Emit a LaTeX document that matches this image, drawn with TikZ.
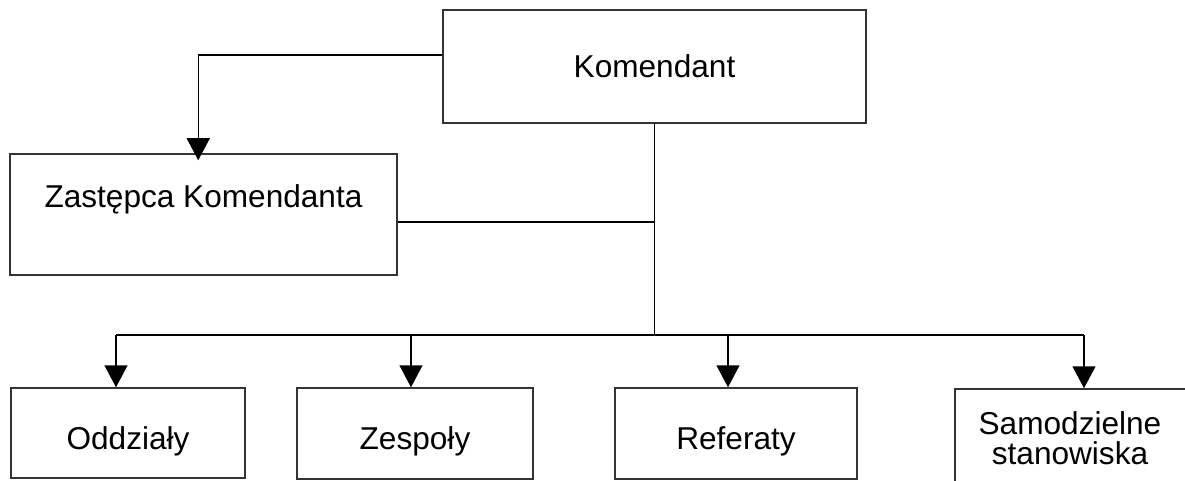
\documentclass[tikz,border=0pt]{standalone}
\usepackage{fontspec}
\setmainfont{Liberation Sans}
\usetikzlibrary{arrows.meta,calc}
\begin{document}
\begin{tikzpicture}[x=0.5pt,y=-0.5pt,
  box/.style 2 args={draw=black!80, line width=0.75pt, inner sep=0pt,
    minimum width=#1*0.5pt, minimum height=#2*0.5pt,
    font=\fontsize{15.8pt}{15pt}\selectfont, text height=11.5pt, text depth=0pt},
  low/.style={text height=16pt},
  lbl/.style={font=\fontsize{15.8pt}{15pt}\selectfont, inner sep=0pt},
  conn/.style={line width=0.75pt, draw=black},
  arr/.style={conn, -{Triangle[width=11.5pt,length=11pt]}}]
\path[use as bounding box, clip] (0,0) rectangle (1185,481);
\fill[white] (0,0) rectangle (1185,481);
% boxes
\node[box={423}{113}] (kom) at (654.5,66.5) {Komendant};
\node[box={387}{121}] (zast) at (203.5,214.5) {};
\node[lbl, anchor=base] (zastt) at (203.5,207) {Zastępca Komendanta};
\node[box={234}{90}, low] (odd) at (128,433) {Oddziały};
\node[box={236}{91}, low] (zes) at (415,433.5) {Zespoły};
\node[box={242}{91}, low] (ref) at (736,433.5) {Referaty};
\node[box={260}{120}] (sam) at (1085,449) {};
\node[lbl, align=center] (samt) at (1070,438) {Samodzielne\\stanowiska};
% connectors
\coordinate (kz) at ($(kom.north west)+(0,46)$);
\coordinate (zt) at ($(zast.north west)+(189,7)$);
\draw[arr] (kz) -| (zt);
\coordinate (bus) at (654.5,335);
\draw[conn] (kom.south) -- (bus);
\coordinate (zj) at ($(zast.east)+(0,7.5)$);
\draw[conn] (zj) -- (zj -| kom.south);
\coordinate (ta) at (116,335);
\coordinate (tb) at (411,335);
\coordinate (tc) at (728,335);
\coordinate (td) at (1084,335);
\draw[conn] (ta) -- (td);
\draw[arr] (ta) -- (ta |- odd.north);
\draw[arr] (tb) -- (tb |- zes.north);
\draw[arr] (tc) -- (tc |- ref.north);
\draw[arr] (td) -- (td |- sam.north);
\end{tikzpicture}
\end{document}
